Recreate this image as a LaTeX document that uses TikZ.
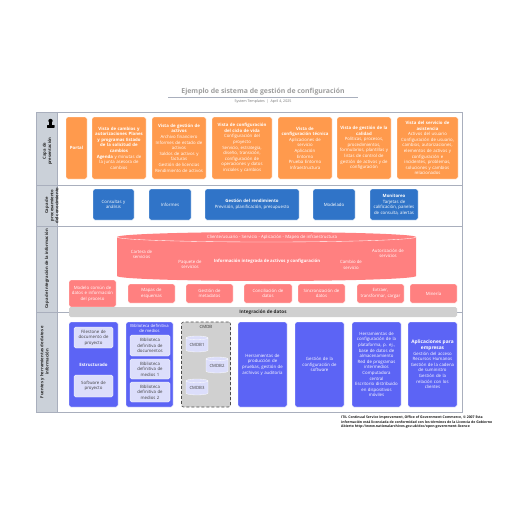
\documentclass[tikz,border=0pt]{standalone}
\usepackage{fontspec}
\setmainfont{Open Sans}
\usetikzlibrary{shapes.geometric}
\definecolor{orangeb}{HTML}{FF9A4D}
\definecolor{blueb}{HTML}{3074C8}
\definecolor{redb}{HTML}{FF8080}
\definecolor{purpb}{HTML}{5C64F5}
\definecolor{paleb}{HTML}{DCDEFB}
\definecolor{frameg}{HTML}{A9AFBD}
\definecolor{labelg}{HTML}{CBD1D9}
\definecolor{greyb}{HTML}{D0D0D0}
\tikzset{
  x=1pt,y=-1pt,
  boxbase/.style={rounded corners=1.6pt,minimum width=0pt,inner sep=0pt,align=center,text=white,font=\fontsize{4.35}{5.6}\selectfont,draw=white,line width=.3pt},
  orangebox/.style={boxbase,fill=orangeb},
  bluebox/.style={boxbase,fill=blueb},
  redbox/.style={boxbase,fill=redb},
  purplebox/.style={boxbase,fill=purpb},
  palebox/.style={boxbase,fill=paleb,text=black!75},
  sidelabel/.style={rotate=90,align=center,font=\fontsize{4.2}{5.2}\selectfont\bfseries,text=black!85,inner sep=0pt},
  rowline/.style={draw=frameg,line width=.7pt},
  cmdbcyl/.style={cylinder,shape border rotate=90,aspect=.25,draw=white,line width=.3pt,fill=paleb,minimum width=22pt,minimum height=16pt,inner sep=0pt,text=black!75,font=\fontsize{4.3}{5.6}\selectfont},
}
\newcommand{\boxat}[7]{% style, name, x1,y1,x2,y2, text
  \node[#1,minimum width=#5pt-#3pt,minimum height=#6pt-#4pt,text width=#5pt-#3pt-2pt] (#2) at ({(#3+#5)/2},{(#4+#6)/2}) {#7};}
\begin{document}
\begin{tikzpicture}
\useasboundingbox (0,0) rectangle (516,516);
\fill[white] (0,0) rectangle (516,516);
% title
\node[font=\fontsize{6.9}{8}\selectfont\bfseries,text=black!38,inner sep=0pt] (title) at (263,91.5) {Ejemplo de sistema de gestión de configuración};
\coordinate (tl) at (168,97.5); \coordinate (tr) at (358,97.5);
\draw[frameg,line width=.6pt] (tl) -- (tr);
\node[font=\fontsize{3.6}{4}\selectfont,text=black!55,inner sep=0pt] (subtitle) at (263,102) {System Templates \ | \ April 4, 2025};
% frame
\fill[labelg] (36,112) rectangle (57.5,412);
\coordinate (r0l) at (36,185); \coordinate (r0r) at (462,185);
\coordinate (r1l) at (36,226); \coordinate (r1r) at (462,226);
\coordinate (r2l) at (36,312); \coordinate (r2r) at (462,312);
\draw[rowline] (r0l) -- (r0r);
\draw[rowline] (r1l) -- (r1r);
\draw[rowline] (r2l) -- (r2r);
\draw[rowline] (36,112) rectangle (462,412);
\draw[rowline] (57.5,112) -- (57.5,412);
% side labels
\node[sidelabel] (l1) at (47.5,151) {Capa de\\presentación};
\node[sidelabel] (l2) at (51.7,205.5) {Capa de\\procesamiento\\del conocimiento};
\node[sidelabel] (l3) at (47,269) {Capa de Integración de la información};
\node[sidelabel] (l4) at (44.5,362) {Fuentes y herramientas de datos e\\información};
% icon
\fill[black] (50.5,120.8) ellipse (2.2 and 2);
\fill[black] (49,122) rectangle (52,126);
\fill[black,rounded corners=.5pt] (47,125) rectangle (54.5,127.8);
% orange
\boxat{orangebox}{o1}{66}{117}{87}{179}{\textbf{Portal}}
\boxat{orangebox}{o2}{92}{117}{146}{179}{\textbf{Vista de cambios y\\autorizaciones Planes\\y programas Estado\\de la solicitud de\\cambios}\\\textbf{Agenda} y minutas de\\la junta asesora de\\cambios}
\boxat{orangebox}{o3}{152}{117}{206}{179}{\textbf{Vista de gestión de\\activos}\\Archivo financiero\\Informes de estado de\\activos\\Saldos de activos y\\facturas\\Gestión de licencias\\Rendimiento de activos}
\boxat{orangebox}{o4}{212}{117}{272}{179}{\textbf{Vista de configuración\\del ciclo de vida}\\Configuración del\\proyecto\\Servicio, estrategia,\\diseño, transición,\\configuración de\\operaciones y datos\\iniciales y cambios}
\boxat{orangebox}{o5}{278}{117}{332}{179}{\textbf{Vista de\\configuración técnica}\\Aplicaciones de\\servicio\\Aplicación\\Entorno\\Prueba Entorno\\Infraestructura}
\boxat{orangebox}{o6}{337}{117}{391}{179}{\textbf{Vista de gestión de la\\calidad}\\Políticas, procesos,\\procedimientos,\\formularios, plantillas y\\listas de control de\\gestión de activos y de\\configuración}
\boxat{orangebox}{o7}{397}{117}{458}{179}{\textbf{Vista del servicio de\\asistencia}\\Activos del usuario\\Configuración de usuario,\\cambios, autorizaciones,\\elementos de activos y\\configuración e\\incidentes, problemas,\\soluciones y cambios\\relacionados}
% blue
\boxat{bluebox}{b1}{93}{189}{134}{220}{Consultas y\\análisis}
\boxat{bluebox}{b2}{149}{189}{191}{220}{Informes}
\boxat{bluebox}{b3}{205}{189}{299}{220}{\textbf{Gestión del rendimiento}\\Previsión, planificación, presupuesto}
\boxat{bluebox}{b4}{313}{189}{355}{220}{Modelado}
\boxat{bluebox}{b5}{370}{189}{418}{220}{\textbf{Monitoreo}\\Tarjetas de\\calificación, paneles\\de consulta, alertas}
% cylinder
\fill[redb] (117,237) arc[start angle=180,end angle=0,x radius=149.5,y radius=-5]
  -- (416,276) arc[start angle=0,end angle=-180,x radius=149.5,y radius=-5] -- cycle;
\draw[white,line width=.35pt] (117,237) arc[start angle=180,end angle=360,x radius=149.5,y radius=-5];
\begin{scope}[every node/.style={text=white,font=\fontsize{4.35}{5.6}\selectfont,align=center,inner sep=0pt}]
\node (c0) at (272,237.5) {Cliente/usuario - Servicio - Aplicación - Mapeo de infraestructura};
\node (c1) at (141.5,254.5) {Cartera de\\servicios};
\node (c2) at (190,264.5) {Paquete de\\servicios};
\node (c3) at (267,261) {\textbf{Información integrada de activos y configuración}};
\node (c4) at (351,265) {Cambio de\\servicio};
\node (c5) at (388,253.5) {Autorización de\\servicios};
\end{scope}
% red
\boxat{redbox}{r1}{69}{280}{116}{307}{Modelo común de\\datos e información\\del proceso}
\boxat{redbox}{r2}{128}{284}{175}{303}{Mapas de\\esquemas}
\boxat{redbox}{r3}{186}{284}{233}{303}{Gestión de\\metadatos}
\boxat{redbox}{r4}{244}{284}{292}{303}{Conciliación de\\datos}
\boxat{redbox}{r5}{298}{284}{345}{303}{Sincronización de\\datos}
\boxat{redbox}{r6}{357}{284}{404}{303}{Extraer,\\transformar, cargar}
\boxat{redbox}{r7}{410}{284}{457}{303}{Minería}
% bar
\node[boxbase,fill=greyb,text=black!85,draw=none,minimum width=388pt,minimum height=10pt,font=\fontsize{4.6}{5.6}\selectfont\bfseries] (bar) at (263,312) {Integración de datos};
% lower
\boxat{purplebox}{p1}{69}{322}{118}{407}{\textbf{Estructurado}}
\boxat{purplebox}{p2}{126}{322}{173}{407}{}
\node[text=white,font=\fontsize{4.2}{5.6}\selectfont,align=center,inner sep=0pt] (p2t) at (149.5,328.5) {Biblioteca definitiva\\de medios};
\boxat{palebox}{f1}{74}{327}{113}{348}{Filestone de\\documento de\\proyecto}
\boxat{palebox}{f2}{74}{375}{113}{397}{Software de\\proyecto}
\boxat{palebox}{d1}{130}{335}{170}{356}{Biblioteca\\definitiva de\\documentos}
\boxat{palebox}{d2}{130}{359}{170}{379}{Biblioteca\\definitiva de\\medios 1}
\boxat{palebox}{d3}{130}{382}{170}{402}{Biblioteca\\definitiva de\\medios 2}
\node[rounded corners=2pt,draw=black!70,densely dashed,line width=.6pt,fill=greyb,minimum width=49pt,minimum height=85pt,inner sep=0pt] (cmdb) at (206,364.5) {};
\node[font=\fontsize{4.3}{5}\selectfont,text=black!80,inner sep=0pt] (cmdbt) at (206,326.5) {CMDB};
\node[cmdbcyl] (k1) at (197,345) {CMDB1};
\node[cmdbcyl] (k2) at (217,366) {CMDB2};
\node[cmdbcyl] (k3) at (197,388) {CMDB3};
\boxat{purplebox}{p4}{238}{322}{287}{407}{Herramientas de\\producción de\\pruebas, gestión de\\archivos y auditoría}
\boxat{purplebox}{p5}{295}{322}{344}{407}{Gestión de la\\configuración de\\software}
\boxat{purplebox}{p6}{352}{322}{401}{407}{Herramientas de\\configuración de la\\plataforma, p. ej.,\\base de datos de\\almacenamiento\\Red de programas\\intermedios\\Computadora\\central\\Escritorio distribuido\\en dispositivos\\móviles}
\boxat{purplebox}{p7}{408}{322}{457}{407}{{\fontsize{4.8}{5.6}\selectfont\textbf{Aplicaciones para\\empresas}}\\Gestión del acceso\\Recursos Humanos\\Gestión de la cadena\\de suministro\\Gestión de la\\relación con los\\clientes}
% footer
\node[anchor=north west,inner sep=0pt,align=left,font=\fontsize{3.45}{4.3}\selectfont\bfseries,text=black!90] (foot) at (341,416) {ITIL Continual Service Improvement, Office of Government Commerce, © 2007 Esta\\información está licenciada de conformidad con los términos de la Licencia de Gobierno\\Abierto http://www.nationalarchives.gov.uk/doc/open-government-licence};
\end{tikzpicture}
\end{document}
